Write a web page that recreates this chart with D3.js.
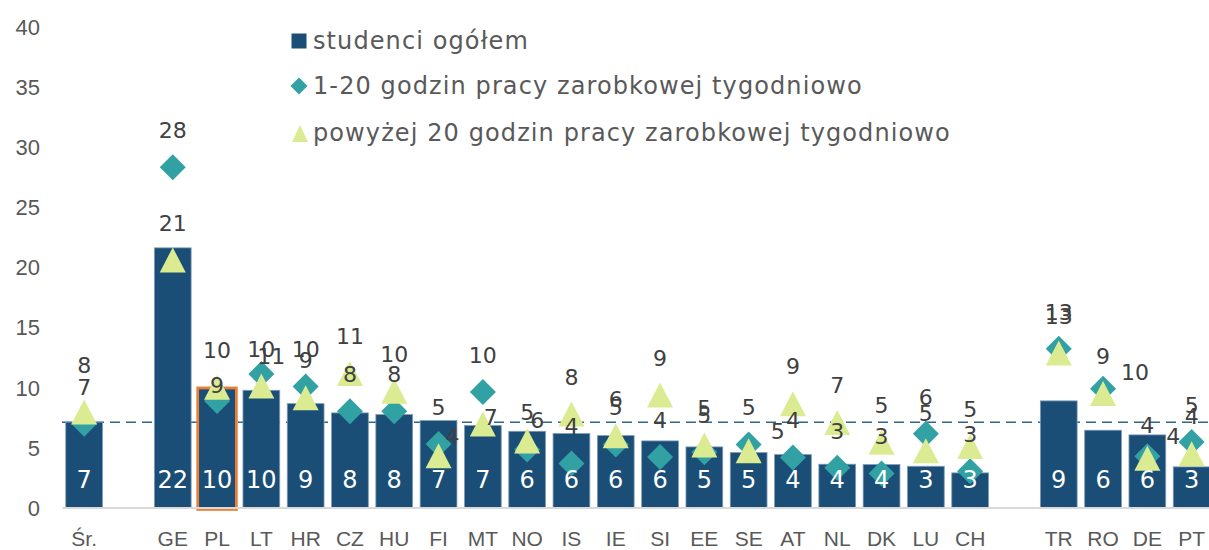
<!DOCTYPE html>
<html>
<head>
<meta charset="utf-8">
<script src="https://cdn.jsdelivr.net/npm/d3@7"></script>
<style>
  html, body { margin: 0; padding: 0; background: #ffffff; }
  svg { display: block; font-family: "DejaVu Sans", "Noto Sans", sans-serif; }
</style>
</head>
<body>
<svg id="chart" width="1209" height="550"></svg>
<script>
// Country codes (empty strings are spacer slots between groups)
const categories = ["Śr.", "", "GE", "PL", "LT", "HR", "CZ", "HU", "FI", "MT", "NO", "IS", "IE",
  "SI", "EE", "SE", "AT", "NL", "DK", "LU", "CH", "", "TR", "RO", "DE", "PT"];

// studenci ogółem
const allStudents = [7.1, null, 21.6, 9.87, 9.75, 8.64, 7.87, 7.73, 7.23, 6.82, 6.34, 6.15, 5.98,
  5.54, 5.04, 4.57, 4.4, 3.6, 3.57, 3.43, 2.88, null, 8.87, 6.43, 6.04, 3.38];

// 1-20 godzin pracy zarobkowej tygodniowo
const work1to20 = [6.96, null, 28.3, 8.87, 11.1, 10.06, 8.0, 8.0, 5.28, 9.6, 4.82, 3.66, 5.24,
  4.2, 4.6, 5.24, 4.16, 3.3, 2.83, 6.13, 3.02, null, 13.2, 9.88, 4.26, 5.45];

// powyżej 20 godzin pracy zarobkowej tygodniowo
const workOver20 = [7.95, null, 20.6, 10.0, 10.1, 9.13, 11.15, 9.67, 4.31, 6.94, 5.54, 7.77, 5.96,
  9.35, 5.2, 4.73, 8.63, 7.08, 5.42, 4.72, 5.07, null, 12.86, 9.48, 4.09, 4.47];

const seriesNames = ["studenci ogółem", "1-20 godzin pracy zarobkowej tygodniowo",
  "powyżej 20 godzin pracy zarobkowej tygodniowo"];

const yTicks = [0, 5, 10, 15, 20, 25, 30, 35, 40];
const highlighted = "PL";

// hand-placed value labels that were moved away from their default spot [dx, dy]
const labelNudge = {
  "d:PL": [0, 21], "d:LT": [10, 19], "d:RO": [32, 21], "d:DE": [0, 6],
  "t:Śr.": [0, -10], "t:FI": [14, 18], "t:MT": [8, 30], "t:NO": [10, 16],
  "t:SE": [29, 18], "t:DE": [26, 15]
};

const colors = { bar: "#1b4e77", diamond: "#32a1a3", triangle: "#dbeb91", text: "#595959", label: "#404040" };

const svg = d3.select("#chart");
const idx = d3.range(categories.length);

const x = d3.scaleBand().domain(idx).range([62, 62 + 44.3 * categories.length])
  .paddingInner(0.17).paddingOuter(0.085);
const y = d3.scaleLinear().domain([0, 40]).range([507.5, 26.7]);
const fmt = d3.format(".0f");

// y axis labels only
const yAxis = svg.append("g").attr("transform", "translate(43,0)")
  .call(d3.axisLeft(y).tickValues(yTicks).tickSize(0).tickPadding(3));
yAxis.select(".domain").remove();
yAxis.selectAll("text").attr("font-size", 22).attr("fill", colors.text)
  .attr("font-family", null).attr("dy", "0.35em");

// average reference line (behind the bars)
svg.append("line")
  .attr("x1", x.range()[0]).attr("x2", x.range()[1])
  .attr("y1", y(allStudents[0])).attr("y2", y(allStudents[0]))
  .attr("stroke", "#2e6690").attr("stroke-width", 1.5).attr("stroke-dasharray", "10,6");

// bars
const barIdx = idx.filter(i => allStudents[i] != null);
svg.append("g").selectAll("rect").data(barIdx).join("rect")
  .attr("x", i => x(i)).attr("width", x.bandwidth())
  .attr("y", i => y(allStudents[i])).attr("height", i => y(0) - y(allStudents[i]))
  .attr("fill", colors.bar).attr("stroke", "#7e9bb8").attr("stroke-width", 0.8);

// highlighted country outline
const hi = categories.indexOf(highlighted);
svg.append("rect")
  .attr("x", x(hi) - 1).attr("width", x.bandwidth() + 2)
  .attr("y", y(allStudents[hi]) - 1).attr("height", y(0) - y(allStudents[hi]) + 3)
  .attr("fill", "none").attr("stroke", "#ed7d31").attr("stroke-width", 2.6);

// x axis
const xAxis = svg.append("g").attr("transform", `translate(0,${y(0)})`)
  .call(d3.axisBottom(x).tickSize(0).tickSizeOuter(0).tickFormat(i => categories[i]));
xAxis.select(".domain").attr("stroke", "#d9d9d9").attr("stroke-width", 2.2);
xAxis.selectAll("text").attr("font-size", 21).attr("fill", colors.text)
  .attr("font-family", null).attr("y", 31).attr("dy", "0.35em");

// marker shapes
const diamondPath = s => `M0,${-s}L${s},0L0,${s}L${-s},0Z`;
const trianglePath = (w, h) => `M0,${-h / 2}L${w / 2},${h / 2}L${-w / 2},${h / 2}Z`;

const dIdx = idx.filter(i => work1to20[i] != null);
const tIdx = idx.filter(i => workOver20[i] != null);
const cx = i => x(i) + x.bandwidth() / 2;

svg.append("g").selectAll("path").data(dIdx).join("path")
  .attr("d", diamondPath(13))
  .attr("transform", i => `translate(${cx(i)},${y(work1to20[i])})`)
  .attr("fill", colors.diamond);

svg.append("g").selectAll("path").data(tIdx).join("path")
  .attr("d", trianglePath(26, 25))
  .attr("transform", i => `translate(${cx(i)},${y(workOver20[i])})`)
  .attr("fill", colors.triangle);

// value labels inside the bars
svg.append("g").selectAll("text").data(barIdx).join("text")
  .attr("x", cx).attr("y", 480).attr("dy", "0.35em")
  .attr("text-anchor", "middle").attr("font-size", 24).attr("fill", "#ffffff")
  .text(i => fmt(allStudents[i]));

// value labels above markers
const nudge = (key, i) => labelNudge[key + ":" + categories[i]] || [0, 0];
const labelGroup = svg.append("g").attr("font-size", 22).attr("fill", colors.label).attr("text-anchor", "middle");
labelGroup.selectAll("text.d").data(dIdx).join("text").attr("class", "d")
  .attr("x", i => cx(i) + nudge("d", i)[0])
  .attr("y", i => y(work1to20[i]) - 37 + nudge("d", i)[1]).attr("dy", "0.35em")
  .text(i => fmt(work1to20[i]));
labelGroup.selectAll("text.t").data(tIdx).join("text").attr("class", "t")
  .attr("x", i => cx(i) + nudge("t", i)[0])
  .attr("y", i => y(workOver20[i]) - 37 + nudge("t", i)[1]).attr("dy", "0.35em")
  .text(i => fmt(workOver20[i]));

// legend
const legend = svg.append("g").attr("transform", "translate(299,0)");
const rows = [41, 86, 133];
legend.append("rect").attr("x", -7.5).attr("y", rows[0] - 7.5).attr("width", 15).attr("height", 15).attr("fill", colors.bar);
legend.append("path").attr("d", diamondPath(8.5)).attr("transform", `translate(0,${rows[1]})`).attr("fill", colors.diamond);
legend.append("path").attr("d", trianglePath(16, 17)).attr("transform", `translate(1,${rows[2] + 0.5})`).attr("fill", colors.triangle);
legend.selectAll("text").data(seriesNames).join("text")
  .attr("x", 14).attr("y", (d, i) => rows[i]).attr("dy", "0.35em")
  .attr("font-size", 24).attr("letter-spacing", 1.1).attr("fill", colors.text)
  .text(d => d);
</script>
</body>
</html>
